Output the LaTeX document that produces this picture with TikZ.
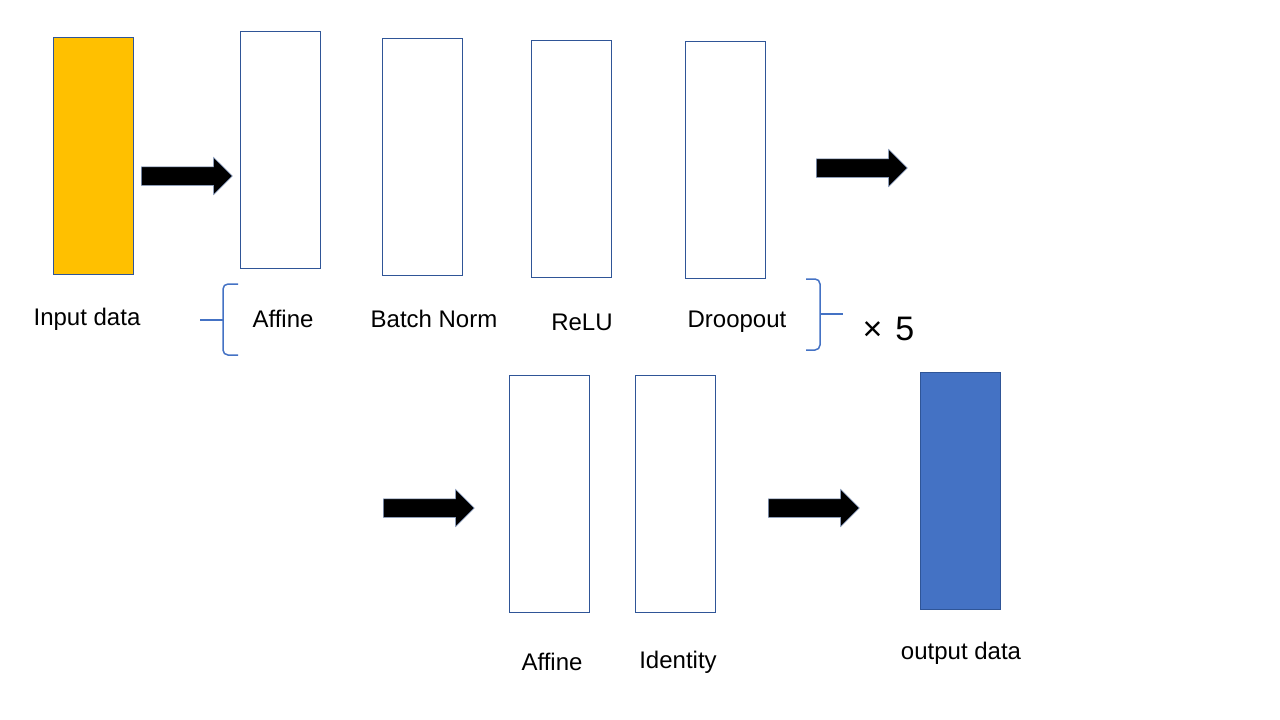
\documentclass[tikz,border=0pt]{standalone}
\usepackage{fontspec}
\setmainfont{Liberation Sans}
\usepackage{xcolor}
\usetikzlibrary{shapes.arrows}

\definecolor{layerblue}{HTML}{2F5597}
\definecolor{inputfill}{HTML}{FFC000}
\definecolor{outputfill}{HTML}{4472C4}
\definecolor{bracecol}{HTML}{4472C4}

\tikzset{
    layer/.style={draw=layerblue,line width=0.8pt,minimum width=80pt,minimum height=237pt,inner sep=0pt},
    blockarrow/.style={single arrow,anchor=tail,fill=black,draw=layerblue!60,line width=0.5pt,
        minimum height=91pt,inner xsep=0pt,inner ysep=9pt,single arrow head extend=9.5pt},
    lbl/.style={font=\fontsize{24}{28}\selectfont,inner sep=0pt},
    bracepath/.style={draw=bracecol,line width=1.5pt,rounded corners=5pt}
}

\begin{document}
\begin{tikzpicture}[x=1pt,y=-1pt]
\useasboundingbox (0,0) rectangle (1280,720);

    % first row
    \node[layer,fill=inputfill] (input) at (93.5,156) {};
    \node[layer] (affine1) at (280,149.5) {};
    \node[layer] (batchnorm) at (422.5,156.5) {};
    \node[layer] (relu) at (571.5,159) {};
    \node[layer] (dropout) at (725,159.5) {};

    \node[blockarrow] (arrowin) at (141,176) {};
    \node[blockarrow] (arrowout) at (816,168) {};

    \node[lbl] (inputlbl) at (87,319) {Input data};
    \node[lbl] (affine1lbl) at (283,319) {Affine};
    \node[lbl] (batchnormlbl) at (434,319) {Batch Norm};
    \node[lbl] (relulbl) at (582,322) {ReLU};
    \node[lbl] (dropoutlbl) at (737,322) {Droopout};

    % braces round the repeated block
    \draw[bracepath] (238,284) -- (223,284) -- (223,320) -- (223,355) -- (238,355);
    \draw[bracepath] (223,320) -- (200,320);
    \draw[bracepath] (806,279) -- (820,279) -- (820,314) -- (820,350) -- (806,350);
    \draw[bracepath] (820,314) -- (843,314);
    \node[font=\fontsize{34}{40}\selectfont,inner sep=0pt] (times) at (888.5,329) {×\hspace{13pt}5};

    % second row
    \node[blockarrow] (arrowmid) at (383,508) {};
    \node[layer] (affine2) at (549,493.5) {};
    \node[layer] (identity) at (675.5,493.5) {};
    \node[blockarrow] (arrowlast) at (768,508) {};
    \node[layer,fill=outputfill] (output) at (960,490.5) {};

    \node[lbl] (affine2lbl) at (552,662) {Affine};
    \node[lbl] (identitylbl) at (678,662) {Identity};
    \node[lbl] (outputlbl) at (961,653) {output data};

\end{tikzpicture}
\end{document}
